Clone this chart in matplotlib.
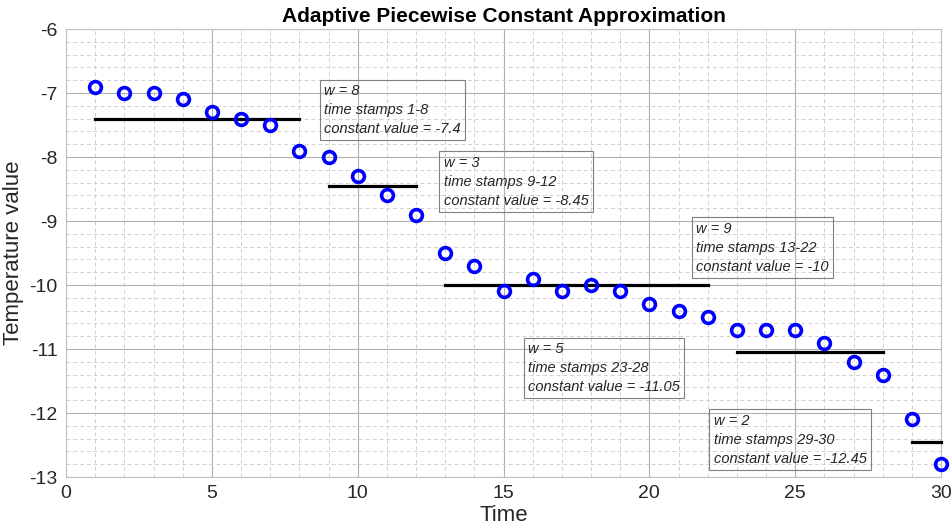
import matplotlib
matplotlib.use("Agg")
import matplotlib.pyplot as plt
from matplotlib.ticker import MultipleLocator

plt.rcParams['font.family'] = ['Liberation Sans', 'DejaVu Sans']
plt.rcParams['axes.unicode_minus'] = False

# observed series
time = list(range(1, 31))
temperature = [-6.9, -7.0, -7.0, -7.1, -7.3, -7.4, -7.5, -7.9, -8.0, -8.3,
               -8.6, -8.9, -9.5, -9.7, -10.1, -9.9, -10.1, -10.0, -10.1, -10.3,
               -10.4, -10.5, -10.7, -10.7, -10.7, -10.9, -11.2, -11.4, -12.1, -12.8]

# piecewise constant segments
seg_start = [1, 9, 13, 23, 29]
seg_end = [8, 12, 22, 28, 30]
seg_value = [-7.4, -8.45, -10, -11.05, -12.45]
seg_w = [8, 3, 9, 5, 2]

# annotation anchors (top-left of each box)
label_x = [8.85, 12.95, 21.6, 15.85, 22.2]
label_y = [-6.86, -7.98, -9.01, -10.89, -12.01]

fig = plt.figure(figsize=(9.51, 5.30), dpi=100)
ax = fig.add_axes([66 / 951, 1 - 477 / 530, (941 - 66) / 951, (477 - 29) / 530])

for s, e, v in zip(seg_start, seg_end, seg_value):
    ax.plot([s, e], [v, v], color='black', linewidth=2.3, zorder=3, clip_on=False)

ax.plot(time, temperature, linestyle='none', marker='o', markersize=8.5,
        markerfacecolor='none', markeredgecolor='#0000ff', markeredgewidth=2.6,
        zorder=4, clip_on=False)

for s, e, v, w, lx, ly in zip(seg_start, seg_end, seg_value, seg_w, label_x, label_y):
    txt = f"w = {w}\ntime stamps {s}-{e}\nconstant value = {v:g}"
    ax.text(lx, ly, txt, fontsize=10.5, style='italic', color='#262626',
            va='top', ha='left', linespacing=1.45, zorder=5,
            bbox=dict(boxstyle='square,pad=0.3', facecolor='none',
                      edgecolor='#808080', linewidth=0.8))

ax.set_xlim(0, 30)
ax.set_ylim(-13, -6)
ax.xaxis.set_major_locator(MultipleLocator(5))
ax.xaxis.set_minor_locator(MultipleLocator(1))
ax.yaxis.set_major_locator(MultipleLocator(1))
ax.yaxis.set_minor_locator(MultipleLocator(0.2))

ax.grid(which='major', color='#b0b0b0', linewidth=0.8, linestyle='-')
ax.grid(which='minor', color='#d0d0d0', linewidth=0.7, linestyle=(0, (4, 3)))
ax.set_axisbelow(True)

for sp in ax.spines.values():
    sp.set_color('#c0c0c0')
    sp.set_linewidth(0.8)

ax.tick_params(which='both', length=0, labelsize=14, labelcolor='#262626', pad=6)

ax.set_title('Adaptive Piecewise Constant Approximation', fontsize=15,
             fontweight='bold', pad=5)
ax.set_xlabel('Time', fontsize=16, color='#262626', labelpad=2)
ax.set_ylabel('Temperature value', fontsize=16, color='#262626', labelpad=4)

fig.savefig('out.png', dpi=100)
